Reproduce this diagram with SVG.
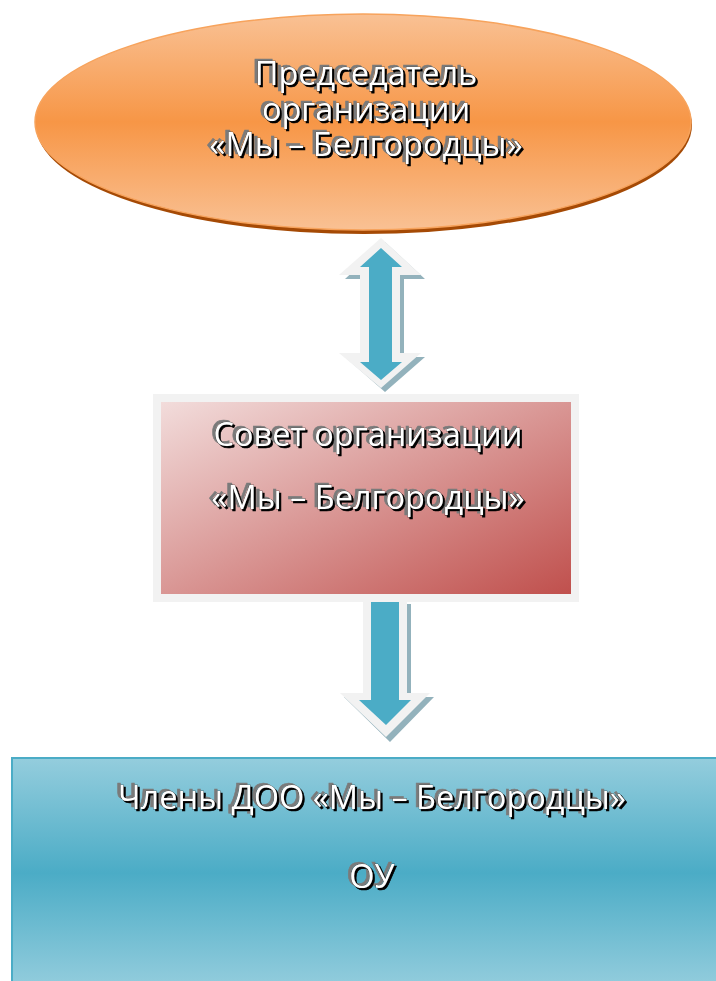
<svg xmlns="http://www.w3.org/2000/svg" width="716" height="981" viewBox="0 0 716 981">
<defs>
<style>
.t{font-family:"Open Sans","DejaVu Sans",sans-serif;font-size:32.5px;fill:#fff;stroke:#1a1a1a;stroke-width:0.6px;paint-order:stroke;text-anchor:middle;filter:url(#ts)}
.frame{fill:#f2f2f2}
.arrowOut{fill:#f2f2f2}
.arrowSh{fill:#93b2bc}
.arrowIn{fill:#4bacc6}
</style>
<filter id="ts" x="-10%" y="-30%" width="120%" height="160%">
<feOffset in="SourceAlpha" dx="-3" dy="-2" result="o1"/>
<feFlood flood-color="#7a7a7a"/>
<feComposite in2="o1" operator="in" result="grey"/>
<feOffset in="SourceAlpha" dx="1.5" dy="1.5" result="o2"/>
<feFlood flood-color="#000"/>
<feComposite in2="o2" operator="in" result="blk"/>
<feMerge><feMergeNode in="grey"/><feMergeNode in="blk"/><feMergeNode in="SourceGraphic"/></feMerge>
</filter>
<linearGradient id="gOr" x1="0" y1="0" x2="0" y2="1">
<stop offset="0" stop-color="#f9c194"/>
<stop offset="0.5" stop-color="#f79646"/>
<stop offset="1" stop-color="#f9c194"/>
</linearGradient>
<linearGradient id="gRed" x1="0" y1="0" x2="1" y2="1">
<stop offset="0" stop-color="#f2dcdb"/>
<stop offset="1" stop-color="#c0504d"/>
</linearGradient>
<linearGradient id="gBlue" x1="0" y1="0" x2="0" y2="1">
<stop offset="0" stop-color="#94cddd"/>
<stop offset="0.5" stop-color="#4bacc6"/>
<stop offset="1" stop-color="#94cddd"/>
</linearGradient>
</defs>
<rect width="716" height="981" fill="#fff"/>

<g id="connectors">
<g id="arrow-both">
<path class="arrowSh" d="M385,242 L425,279 L404,279 L404,357 L425,357 L385,392 L345,357 L364,357 L364,279 L345,279 Z"/>
<path class="arrowOut" d="M381,238 L421,275 L400,275 L400,353 L421,353 L381,388 L339,353 L360,353 L360,275 L339,275 Z"/>
<path class="arrowIn" d="M381,248 L402,267 L392,267 L392,362 L402,362 L381,380 L360,362 L369,362 L369,267 L360,267 Z"/>
</g>
<g id="arrow-down">
<path class="arrowSh" d="M367,604 L411,604 L411,697 L434,697 L390,742 L344,697 L367,697 Z"/>
<path class="arrowOut" d="M363,600 L407,600 L407,693 L430,693 L386,737 L340,693 L363,693 Z"/>
<path class="arrowIn" d="M371,602 L399,602 L399,700 L411,700 L386,725 L359,700 L371,700 Z"/>
</g>
</g>

<g id="node-chairman">
<ellipse cx="364" cy="125" rx="328" ry="109" fill="#a54a05"/>
<ellipse cx="363" cy="122" rx="328" ry="108" fill="url(#gOr)" stroke="#f7a35c" stroke-width="1.5"/>
<text class="t"><tspan x="366" y="85">Председатель</tspan><tspan x="366" y="121">организации</tspan><tspan x="366" y="156">«Мы – Белгородцы»</tspan></text>
</g>

<g id="node-council">
<rect class="frame" x="153" y="394" width="426" height="208"/>
<rect x="161" y="402" width="410" height="192" fill="url(#gRed)"/>
<text class="t" x="368" y="446">Совет организации</text>
<text class="t" x="368" y="509">«Мы – Белгородцы»</text>
</g>

<g id="node-members">
<rect x="12" y="758" width="712" height="230" fill="url(#gBlue)" stroke="#4bacc6" stroke-width="2"/>
<text class="t" x="372" y="809">Члены ДОО «Мы – Белгородцы»</text>
<text class="t" x="372" y="888">ОУ</text>
</g>
</svg>
